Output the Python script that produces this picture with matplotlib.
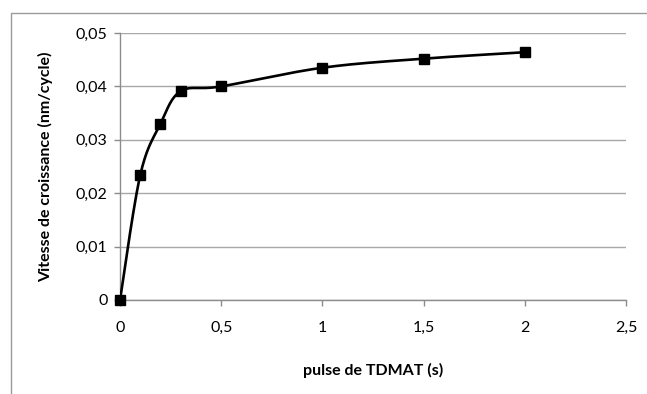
import matplotlib.pyplot as plt
import numpy as np
from matplotlib.patches import Rectangle

# data
pulse = [0, 0.1, 0.2, 0.3, 0.5, 1.0, 1.5, 2.0]
vitesse = [0, 0.0234, 0.033, 0.0391, 0.0400, 0.0435, 0.0452, 0.0464]

x_ticks = [0, 0.5, 1, 1.5, 2, 2.5]
x_labels = ['0', '0,5', '1', '1,5', '2', '2,5']
y_ticks = [0, 0.01, 0.02, 0.03, 0.04, 0.05]
y_labels = ['0', '0,01', '0,02', '0,03', '0,04', '0,05']


def smooth_line(xs, ys, sx, sy, n=30):
    # Excel-style smoothed line (bezier, control points at 1/6 of neighbour spread)
    px = np.array(xs) / sx
    py = np.array(ys) / sy
    pts = np.column_stack([px, py])
    out = []
    for i in range(len(pts) - 1):
        p0 = pts[max(i - 1, 0)]
        p1 = pts[i]
        p2 = pts[i + 1]
        p3 = pts[min(i + 2, len(pts) - 1)]
        c1 = p1 + (p2 - p0) / 6
        c2 = p2 - (p3 - p1) / 6
        t = np.linspace(0, 1, n)[:, None]
        seg = ((1 - t) ** 3) * p1 + 3 * ((1 - t) ** 2) * t * c1 + 3 * (1 - t) * t ** 2 * c2 + t ** 3 * p2
        out.append(seg)
    out = np.vstack(out)
    return out[:, 0] * sx, out[:, 1] * sy


plt.rcParams['font.family'] = ['Lato', 'DejaVu Sans']

fig = plt.figure(figsize=(6.47, 3.94), dpi=100)
ax = fig.add_axes([0.1855, 0.2386, 0.7820, 0.6776])

# outer chart frame (top and left visible)
fig.patches.append(Rectangle((11 / 647, -0.1), 1.2, 0.1 + (394 - 13) / 394,
                             transform=fig.transFigure, fill=False,
                             edgecolor='#9a9a9a', linewidth=1.0))

# axis spans roughly 506 px by 267 px -> scale for smoothing
sx_curve, sy_curve = 2.5 / 506, 0.05 / 267
cx, cy = smooth_line(pulse, vitesse, sx_curve, sy_curve)
ax.plot(cx, cy, color='black', linewidth=1.9, zorder=3)
ax.plot(pulse, vitesse, linestyle='none', marker='s', markersize=6.5,
        color='black', zorder=4, clip_on=False)

ax.set_xlim(0, 2.5)
ax.set_ylim(0, 0.05)
ax.set_xticks(x_ticks)
ax.set_xticklabels(x_labels)
ax.set_yticks(y_ticks)
ax.set_yticklabels(y_labels)
ax.grid(axis='y', color='#a8a8a8', linewidth=1.0)
ax.set_axisbelow(True)

for side in ['top', 'right']:
    ax.spines[side].set_visible(False)
for side in ['left', 'bottom']:
    ax.spines[side].set_color('#8c8c8c')
    ax.spines[side].set_linewidth(1.0)

ax.tick_params(axis='both', colors='#8c8c8c', length=4, width=1.0,
               labelcolor='black', labelsize=11.5)
ax.tick_params(axis='x', pad=11)
ax.tick_params(axis='y', pad=5)

ax.set_xlabel('pulse de TDMAT (s)', fontsize=11.5, fontweight='bold', labelpad=20)
ax.set_ylabel('Vitesse de croissance (nm/cycle)', fontsize=11.5, fontweight='bold', labelpad=16)

fig.savefig('out.png', dpi=100)
